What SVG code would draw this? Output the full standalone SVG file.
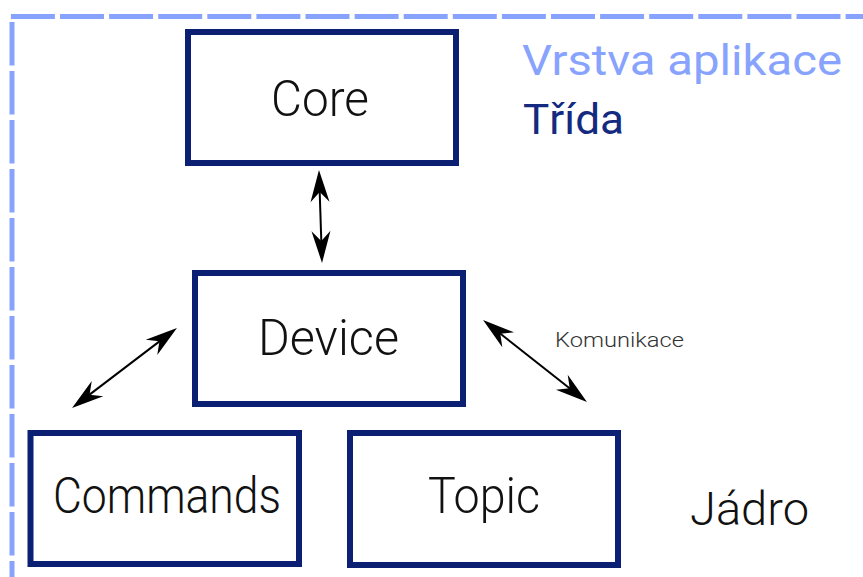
<svg xmlns="http://www.w3.org/2000/svg" width="863" height="577" viewBox="0 0 863 577">
  <style>
    .box { fill: #ffffff; stroke: #0b1f73; stroke-width: 6; }
    .lbl { font-family: Roboto, "Liberation Sans", sans-serif; font-weight: 300; fill: #111111; }
    .conn { fill: none; stroke: #000000; stroke-width: 2; marker-start: url(#arr); marker-end: url(#arr); }
    .border { fill: none; stroke: #88a3fd; stroke-width: 5; }
  </style>
  <defs>
    <marker id="arr" viewBox="0 0 36 24" refX="24" refY="12" markerWidth="36" markerHeight="24" markerUnits="userSpaceOnUse" orient="auto-start-reverse">
      <path d="M34,12 L2,2.5 L12,12 L2,21.5 Z" fill="#000000"/>
    </marker>
  </defs>
  <rect width="863" height="577" fill="#ffffff"/>

  <g id="layer-border">
    <path class="border" d="M10.9,16.5 H863" stroke-dasharray="44 5.1"/>
    <path class="border" d="M12,22 V577" stroke-dasharray="43.5 5.5"/>
  </g>

  <g id="legend">
    <text x="522" y="75" font-family="Roboto, 'Liberation Sans', sans-serif" font-size="43" fill="#88a3fd" textLength="320" lengthAdjust="spacingAndGlyphs">Vrstva aplikace</text>
    <text x="523" y="134" font-family="Roboto, 'Liberation Sans', sans-serif" font-size="42" fill="#142a80" textLength="101" lengthAdjust="spacingAndGlyphs">Třída</text>
  </g>

  <g id="node-core">
    <rect class="box" x="188" y="32" width="268" height="131"/>
    <text class="lbl" x="271" y="116" font-size="50" textLength="98" lengthAdjust="spacingAndGlyphs">Core</text>
  </g>

  <g id="node-device">
    <rect class="box" x="195" y="273" width="268" height="131"/>
    <text class="lbl" x="258" y="355" font-size="50" textLength="141" lengthAdjust="spacingAndGlyphs">Device</text>
  </g>

  <g id="node-commands">
    <rect class="box" x="30.5" y="433" width="268.5" height="131"/>
    <text class="lbl" x="53" y="513" font-size="50" textLength="228" lengthAdjust="spacingAndGlyphs">Commands</text>
  </g>

  <g id="node-topic">
    <rect class="box" x="350" y="433" width="268" height="132"/>
    <text class="lbl" x="428" y="513" font-size="50" textLength="112" lengthAdjust="spacingAndGlyphs">Topic</text>
  </g>

  <g id="label-jadro">
    <text class="lbl" x="690" y="525" font-size="46" textLength="119" lengthAdjust="spacingAndGlyphs">Jádro</text>
  </g>

  <g id="connectors">
    <path class="conn" d="M319.3,180 L321.7,253"/>
    <path class="conn" d="M169,334.1 L80,401.9"/>
    <path class="conn" d="M490.9,326.2 L579.1,395.8"/>
    <text x="555" y="347" font-family="Roboto, 'Liberation Sans', sans-serif" font-weight="300" font-size="21" fill="#333333" textLength="129" lengthAdjust="spacingAndGlyphs">Komunikace</text>
  </g>
</svg>
